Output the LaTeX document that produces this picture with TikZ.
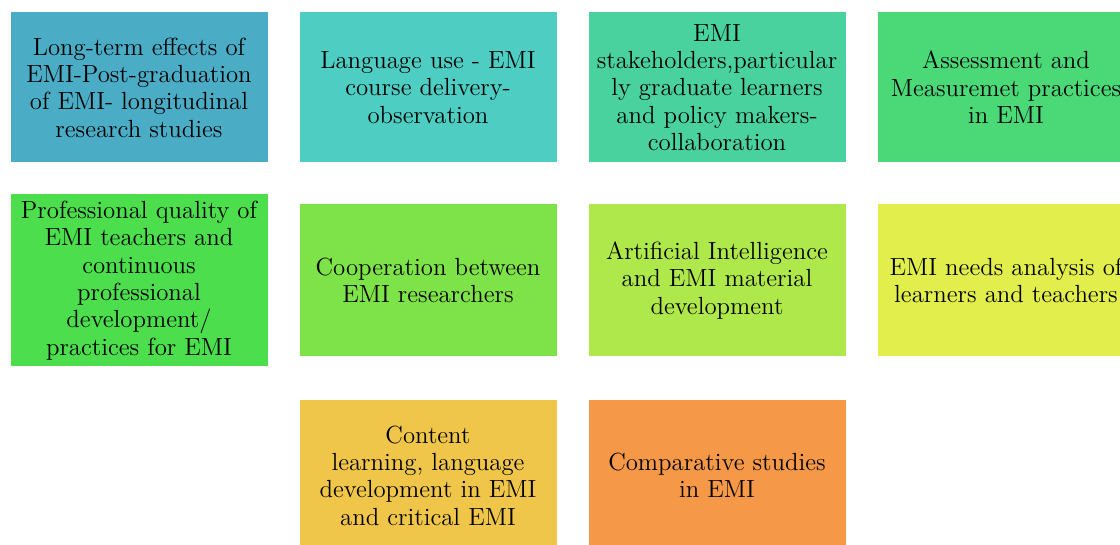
\documentclass[tikz,border=0pt]{standalone}
\usetikzlibrary{positioning}

\definecolor{boxA}{RGB}{75,172,198}
\definecolor{boxB}{RGB}{78,205,194}
\definecolor{boxC}{RGB}{73,210,157}
\definecolor{boxD}{RGB}{75,216,118}
\definecolor{boxE}{RGB}{76,222,76}
\definecolor{boxF}{RGB}{126,227,72}
\definecolor{boxG}{RGB}{174,232,74}
\definecolor{boxH}{RGB}{226,238,75}
\definecolor{boxI}{RGB}{240,198,74}
\definecolor{boxJ}{RGB}{245,152,72}

\tikzset{
  topic/.style={rectangle, minimum width=129pt, minimum height=75.5pt,
    inner sep=1pt, align=center, draw=white, line width=0.5pt,
    font=\fontsize{12.4}{13.7}\selectfont},
}

\begin{document}
\begin{tikzpicture}[x=0.5pt, y=0.5pt, node distance=20pt and 15pt]
  \clip (0,0) rectangle (1120,-545);

  % first row
  \node[topic, fill=boxA] (longterm) at (139,-87.5)
    {Long-term effects of\\EMI-Post-graduation\\of EMI- longitudinal\\research studies};
  \node[topic, fill=boxB, right=of longterm] (languse)
    {Language use - EMI\\course delivery-\\observation};
  \node[topic, fill=boxC, right=of languse] (stakeholders)
    {EMI\\stakeholders,particular\\ly graduate learners\\and policy makers-\\collaboration};
  \node[topic, fill=boxD, right=of stakeholders] (assess)
    {Assessment and\\Measuremet practices\\in EMI};

  % second row
  \node[topic, fill=boxF, below=of languse, minimum height=76.5pt] (coop)
    {Cooperation between\\EMI researchers};
  \node[topic, fill=boxE, left=of coop, minimum height=86.5pt] (profqual)
    {Professional quality of\\EMI teachers  and\\continuous\\professional\\development/\\practices for EMI};
  \node[topic, fill=boxG, right=of coop, minimum height=76.5pt] (ai)
    {Artificial Intelligence\\and EMI material\\development};
  \node[topic, fill=boxH, right=of ai, minimum height=76.5pt] (needs)
    {EMI needs analysis of\\learners and teachers};

  % third row
  \node[topic, fill=boxI, below=21pt of coop] (content)
    {Content\\learning, language\\development in EMI\\and critical EMI};
  \node[topic, fill=boxJ, right=of content] (compare)
    {Comparative studies\\in EMI};
\end{tikzpicture}
\end{document}
